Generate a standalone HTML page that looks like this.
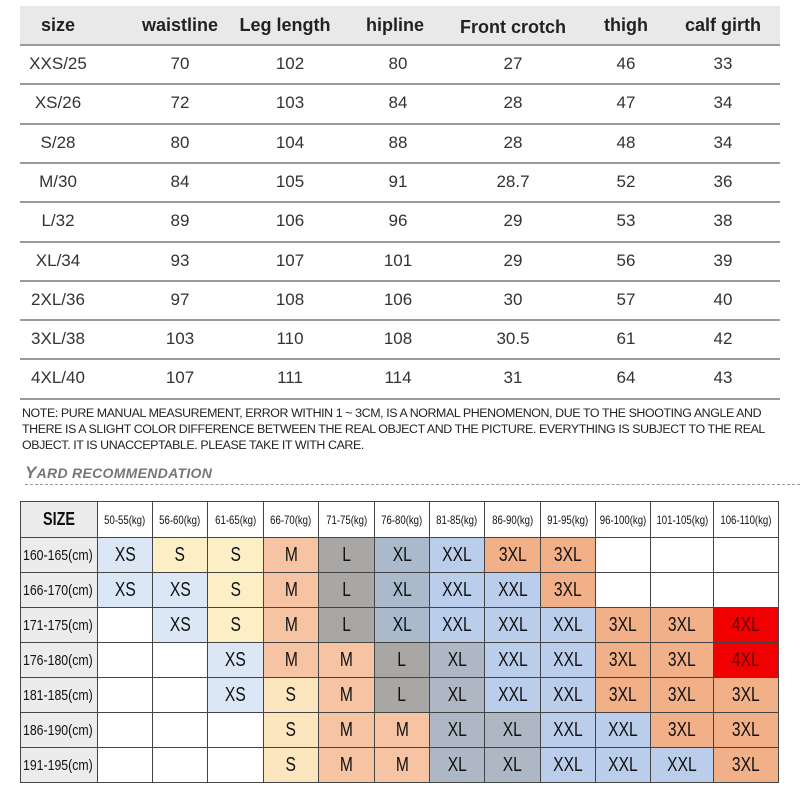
<!DOCTYPE html>
<html><head><meta charset="utf-8"><style>
body{margin:0;width:800px;height:800px;background:#fff;position:relative;overflow:hidden;font-family:"Liberation Sans",sans-serif;color:#222}
.a{position:absolute}
.h{position:absolute;top:6px;height:39px;line-height:39px;font-weight:bold;font-size:18px;text-align:center;transform:translateX(-50%);white-space:nowrap;color:#222}
.c{position:absolute;font-size:17px;text-align:center;transform:translateX(-50%);white-space:nowrap;color:#333}
.ln{position:absolute;left:20px;width:760px;height:2px;background:#9a9a9a}
table{position:absolute;left:20px;top:501px;width:758px;border-collapse:collapse;font-family:"Liberation Sans",sans-serif;table-layout:fixed}
td{border:1.5px solid #444;text-align:center;padding:0;height:34px;font-size:20px;color:#111;white-space:nowrap;overflow:hidden}
td span{display:inline-block;transform:scaleX(0.78);margin:0 -10px}
tr.hd td{height:35px;font-size:12px}
tr.hd td span{transform:scaleX(0.8);margin:0 -12px}
td.lb{background:#ececec;font-size:15px;text-align:left;padding-left:0}
td.lb span{transform-origin:left;transform:scaleX(0.82);margin:0 -20px 0 2px}
.XS{background:#dbe7f4}.S{background:#fcefc6}.M{background:#f6c3a3}.L{background:#a9a7a5}.XL{background:#aab9cc}.XXL{background:#bacdea}.T{background:#f2b089}.F{background:#f00000;color:#600}.Sp{background:#fbe6c0}.XLg{background:#aeb8c4}
</style></head><body>
<div class="a" style="left:20px;top:6px;width:760px;height:39px;background:#e9e9e9"></div>
<div class="h" style="left:58px">size</div>
<div class="h" style="left:180px">waistline</div>
<div class="h" style="left:285px">Leg length</div>
<div class="h" style="left:395px">hipline</div>
<div class="h" style="left:513px;top:8px">Front crotch</div>
<div class="h" style="left:626px">thigh</div>
<div class="h" style="left:723px">calf girth</div>
<div id="rows"></div>
<div class="a" style="left:22px;top:405px;font-size:12.4px;line-height:16px;color:#222;white-space:nowrap;letter-spacing:-0.4px">NOTE: PURE MANUAL MEASUREMENT, ERROR WITHIN 1 ~ 3CM, IS A NORMAL PHENOMENON, DUE TO THE SHOOTING ANGLE AND<br>THERE IS A SLIGHT COLOR DIFFERENCE BETWEEN THE REAL OBJECT AND THE PICTURE. EVERYTHING IS SUBJECT TO THE REAL<br>OBJECT. IT IS UNACCEPTABLE. PLEASE TAKE IT WITH CARE.</div>
<div class="a" style="left:25px;top:463px;font-size:14px;font-weight:bold;font-style:italic;color:#777;letter-spacing:0.3px"><span style="font-size:17px">Y</span>ARD RECOMMENDATION</div>
<div class="a" style="left:25px;top:484px;width:775px;border-top:1px dashed #999"></div>
<table>
<colgroup><col style="width:77px"><col style="width:55px"><col style="width:55px"><col style="width:56px"><col style="width:55px"><col style="width:56px"><col style="width:55px"><col style="width:55px"><col style="width:56px"><col style="width:55px"><col style="width:55px"><col style="width:63px"><col style="width:65px"></colgroup>
<tr class="hd"><td style="background:#ececec;font-size:18px;font-weight:bold"><span>SIZE</span></td><td><span>50-55(kg)</span></td><td><span>56-60(kg)</span></td><td><span>61-65(kg)</span></td><td><span>66-70(kg)</span></td><td><span>71-75(kg)</span></td><td><span>76-80(kg)</span></td><td><span>81-85(kg)</span></td><td><span>86-90(kg)</span></td><td><span>91-95(kg)</span></td><td><span>96-100(kg)</span></td><td><span>101-105(kg)</span></td><td><span>106-110(kg)</span></td></tr>
<tr><td class="lb"><span>160-165(cm)</span></td><td class="XS"><span>XS</span></td><td class="S"><span>S</span></td><td class="S"><span>S</span></td><td class="M"><span>M</span></td><td class="L"><span>L</span></td><td class="XL"><span>XL</span></td><td class="XXL"><span>XXL</span></td><td class="T"><span>3XL</span></td><td class="T"><span>3XL</span></td><td></td><td></td><td></td></tr>
<tr><td class="lb"><span>166-170(cm)</span></td><td class="XS"><span>XS</span></td><td class="XS"><span>XS</span></td><td class="S"><span>S</span></td><td class="M"><span>M</span></td><td class="L"><span>L</span></td><td class="XL"><span>XL</span></td><td class="XXL"><span>XXL</span></td><td class="XXL"><span>XXL</span></td><td class="T"><span>3XL</span></td><td></td><td></td><td></td></tr>
<tr><td class="lb"><span>171-175(cm)</span></td><td></td><td class="XS"><span>XS</span></td><td class="S"><span>S</span></td><td class="M"><span>M</span></td><td class="L"><span>L</span></td><td class="XL"><span>XL</span></td><td class="XXL"><span>XXL</span></td><td class="XXL"><span>XXL</span></td><td class="XXL"><span>XXL</span></td><td class="T"><span>3XL</span></td><td class="T"><span>3XL</span></td><td class="F"><span>4XL</span></td></tr>
<tr><td class="lb"><span>176-180(cm)</span></td><td></td><td></td><td class="XS"><span>XS</span></td><td class="M"><span>M</span></td><td class="M"><span>M</span></td><td class="L"><span>L</span></td><td class="XLg"><span>XL</span></td><td class="XXL"><span>XXL</span></td><td class="XXL"><span>XXL</span></td><td class="T"><span>3XL</span></td><td class="T"><span>3XL</span></td><td class="F"><span>4XL</span></td></tr>
<tr><td class="lb"><span>181-185(cm)</span></td><td></td><td></td><td class="XS"><span>XS</span></td><td class="Sp"><span>S</span></td><td class="M"><span>M</span></td><td class="L"><span>L</span></td><td class="XLg"><span>XL</span></td><td class="XXL"><span>XXL</span></td><td class="XXL"><span>XXL</span></td><td class="T"><span>3XL</span></td><td class="T"><span>3XL</span></td><td class="T"><span>3XL</span></td></tr>
<tr><td class="lb"><span>186-190(cm)</span></td><td></td><td></td><td></td><td class="Sp"><span>S</span></td><td class="M"><span>M</span></td><td class="M"><span>M</span></td><td class="XLg"><span>XL</span></td><td class="XLg"><span>XL</span></td><td class="XXL"><span>XXL</span></td><td class="XXL"><span>XXL</span></td><td class="T"><span>3XL</span></td><td class="T"><span>3XL</span></td></tr>
<tr><td class="lb"><span>191-195(cm)</span></td><td></td><td></td><td></td><td class="Sp"><span>S</span></td><td class="M"><span>M</span></td><td class="M"><span>M</span></td><td class="XLg"><span>XL</span></td><td class="XLg"><span>XL</span></td><td class="XXL"><span>XXL</span></td><td class="XXL"><span>XXL</span></td><td class="XXL"><span>XXL</span></td><td class="T"><span>3XL</span></td></tr>
</table>
<script>
var d=[["XXS/25",70,102,80,27,46,33],["XS/26",72,103,84,28,47,34],["S/28",80,104,88,28,48,34],["M/30",84,105,91,28.7,52,36],["L/32",89,106,96,29,53,38],["XL/34",93,107,101,29,56,39],["2XL/36",97,108,106,30,57,40],["3XL/38",103,110,108,30.5,61,42],["4XL/40",107,111,114,31,64,43]];
var xs=[58,180,290,398,513,626,723],h="";
for(var i=0;i<9;i++){var t=45+i*39.3;h+='<div class="ln" style="top:'+(t-1)+'px"></div>';for(var j=0;j<7;j++)h+='<div class="c" style="left:'+xs[j]+'px;top:'+(t+9)+'px">'+d[i][j]+'</div>';}
h+='<div class="ln" style="top:398px"></div>';
document.getElementById("rows").innerHTML=h;
</script>
</body></html>
